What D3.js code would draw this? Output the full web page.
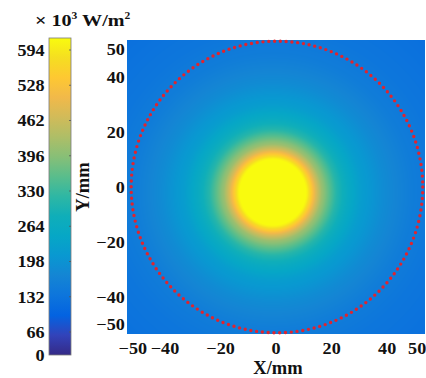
<!DOCTYPE html>
<html>
<head>
<meta charset="utf-8">
<script src="https://cdn.jsdelivr.net/npm/d3@7/dist/d3.min.js"></script>
<style>
  body { margin: 0; background: #fff; }
  text { font-family: "Liberation Serif", "Times New Roman", serif; font-weight: bold; fill: #111; }
</style>
</head>
<body>
<svg id="chart" width="426" height="378"></svg>
<script>
// ── Data ──
const xTicks = [-50, -40, -20, 0, 20, 40, 50];
const yTicks = [50, 40, 20, 0, -20, -40, -50];
const cbTicks = [0, 66, 132, 198, 264, 330, 396, 462, 528, 594];

// radial irradiance profile of the spot (mm -> x10^3 W/m^2)
const profileR = [0, 11, 12.5, 14, 15.5, 17.5, 20, 23, 27, 32, 40, 50, 60, 80];
const profileV = [640, 640, 600, 540, 480, 415, 365, 308, 260, 220, 184, 153, 137, 122];
const spotCenter = [-1, -2];

// dotted reference circle
const ringCenter = [0.5, 0];
const ringRadius = 52.5;

// parula colormap (every 4th entry of the 64-step map)
const parula = [
  [0.2081, 0.1663, 0.5292], [0.1959, 0.2645, 0.7279], [0.0117, 0.3875, 0.8820],
  [0.0498, 0.4586, 0.8641], [0.0793, 0.5200, 0.8312], [0.0343, 0.5966, 0.8199],
  [0.0228, 0.6535, 0.7768], [0.0590, 0.6838, 0.7254], [0.1801, 0.7177, 0.6424],
  [0.3482, 0.7424, 0.5473], [0.5300, 0.7491, 0.4661], [0.6834, 0.7435, 0.4044],
  [0.8185, 0.7327, 0.3498], [0.9450, 0.7261, 0.2886], [0.9955, 0.7861, 0.1967],
  [0.9626, 0.8705, 0.1309], [0.9763, 0.9831, 0.0538]
];

const svg = d3.select('#chart');

// ── Scales ──
const plot = { left: 127, right: 425, top: 40, bottom: 334 };
const x = d3.scaleLinear().domain([-53.5, 53.8]).range([plot.left, plot.right]);
const y = d3.scaleLinear().domain([-53.5, 53.5]).range([plot.bottom, plot.top]);

// colour bar labels are not evenly spaced at the bottom
const cb = { left: 49, right: 71, top: 38, bottom: 355 };
const cbY = d3.scaleLinear().domain([0, 66, 594]).range([355, 332, 50]);

const colorStops = parula.map(c => d3.rgb(c[0] * 255, c[1] * 255, c[2] * 255));
const colorT = d3.scaleLinear()
  .domain(d3.range(colorStops.length).map(i => i / (colorStops.length - 1)))
  .range(colorStops)
  .interpolate(d3.interpolateRgb)
  .clamp(true);
const tOfValue = v => Math.max(0, Math.min(1, (cb.bottom - cbY(v)) / (cb.bottom - cb.top)));
const color = v => colorT(tOfValue(v));

const profile = d3.scaleLinear().domain(profileR).range(profileV).clamp(true);

// ── Heatmap (drawn to a canvas, placed as an SVG image) ──
const w = plot.right - plot.left, h = plot.bottom - plot.top;
const canvas = document.createElement('canvas');
canvas.width = w; canvas.height = h;
const ctx = canvas.getContext('2d');
const img = ctx.createImageData(w, h);
for (let j = 0; j < h; j++) {
  const my = y.invert(plot.top + j + 0.5);
  for (let i = 0; i < w; i++) {
    const mx = x.invert(plot.left + i + 0.5);
    const r = Math.hypot(mx - spotCenter[0], my - spotCenter[1]);
    const c = d3.rgb(color(profile(r)));
    const k = (j * w + i) * 4;
    img.data[k] = c.r; img.data[k + 1] = c.g; img.data[k + 2] = c.b; img.data[k + 3] = 255;
  }
}
ctx.putImageData(img, 0, 0);

svg.append('image')
  .attr('x', plot.left).attr('y', plot.top)
  .attr('width', w).attr('height', h)
  .attr('href', canvas.toDataURL());

// dotted ring
svg.append('circle')
  .attr('cx', x(ringCenter[0]))
  .attr('cy', y(ringCenter[1]))
  .attr('r', x(ringRadius) - x(0))
  .attr('fill', 'none')
  .attr('stroke', '#e0242e')
  .attr('stroke-width', 3.4)
  .attr('stroke-linecap', 'round')
  .attr('stroke-dasharray', '0 5.8');

// ── Axes ──
const stretch = 'scale(1.1,1)';
const styleTicks = g => g.selectAll('text')
  .attr('font-size', 16.5)
  .attr('transform', stretch)
  .style('font-family', '"Liberation Serif", "Times New Roman", serif')
  .style('font-weight', 'bold')
  .attr('fill', '#111');

const xAxis = svg.append('g')
  .attr('transform', `translate(0,${plot.bottom})`)
  .call(d3.axisBottom(x).tickValues(xTicks).tickSize(0).tickPadding(8));
xAxis.select('.domain').remove();
styleTicks(xAxis);
// the end labels sit a little outwards
xAxis.selectAll('.tick text').attr('dx', d => d === -50 ? -4 : d === 50 ? 2 : 0);

const yAxis = svg.append('g')
  .attr('transform', `translate(${plot.left},0)`)
  .call(d3.axisLeft(y).tickValues(yTicks).tickSize(0).tickPadding(2));
yAxis.select('.domain').remove();
styleTicks(yAxis);

svg.append('text')
  .attr('x', (plot.left + plot.right) / 2 + 2)
  .attr('y', 374)
  .attr('text-anchor', 'middle')
  .attr('font-size', 18.5)
  .text('X/mm');

svg.append('text')
  .attr('transform', `translate(89,${y(0)}) rotate(-90)`)
  .attr('text-anchor', 'middle')
  .attr('font-size', 18.5)
  .text('Y/mm');

// ── Colour bar ──
const gradId = 'cbgrad';
const grad = svg.append('defs').append('linearGradient')
  .attr('id', gradId)
  .attr('x1', 0).attr('y1', 1).attr('x2', 0).attr('y2', 0);
colorStops.forEach((c, i) => {
  grad.append('stop')
    .attr('offset', i / (colorStops.length - 1))
    .attr('stop-color', c);
});

svg.append('rect')
  .attr('x', cb.left).attr('y', cb.top)
  .attr('width', cb.right - cb.left).attr('height', cb.bottom - cb.top)
  .attr('fill', `url(#${gradId})`)
  .attr('stroke', '#7a7a7a')
  .attr('stroke-width', 0.8);

const cbAxis = svg.append('g')
  .attr('transform', `translate(${cb.left},0)`)
  .call(d3.axisLeft(cbY).tickValues(cbTicks).tickSize(0).tickPadding(4));
cbAxis.select('.domain').remove();
styleTicks(cbAxis);

// small inner ticks on the right edge of the bar
svg.append('g')
  .selectAll('line')
  .data(cbTicks.slice(1))
  .join('line')
  .attr('x1', cb.right - 2).attr('x2', cb.right)
  .attr('y1', d => cbY(d)).attr('y2', d => cbY(d))
  .attr('stroke', '#555').attr('stroke-width', 0.8);

// unit label
const unit = svg.append('text')
  .attr('transform', 'translate(35,26) scale(1.15,1)')
  .attr('font-size', 17.5);
unit.append('tspan').text('× 10');
unit.append('tspan').attr('dy', -7).attr('font-size', 10).text('3');
unit.append('tspan').attr('dy', 7).text(' W/m');
unit.append('tspan').attr('dy', -7).attr('font-size', 10).text('2');
</script>
</body>
</html>
